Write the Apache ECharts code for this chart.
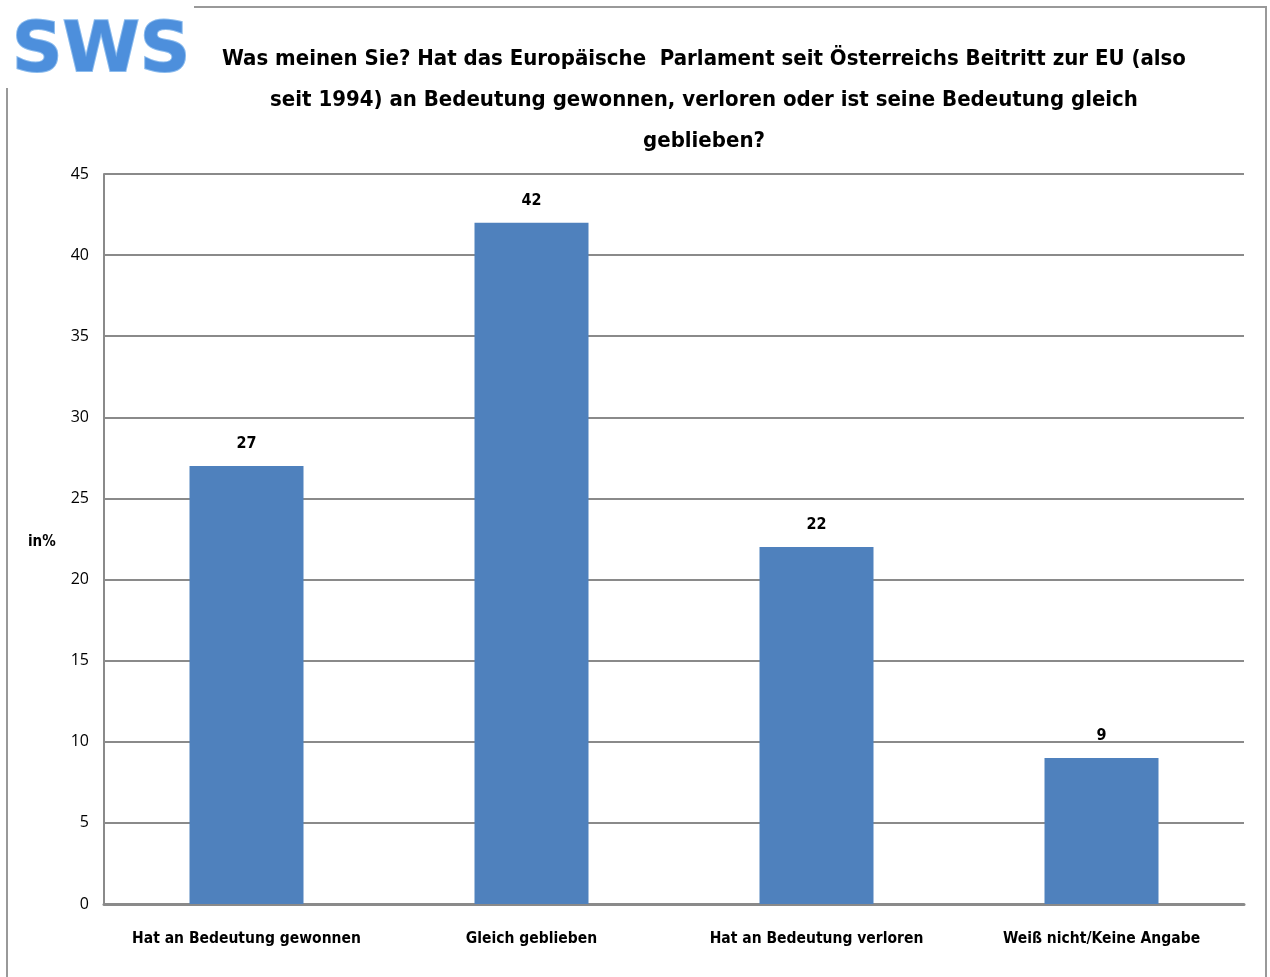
<!DOCTYPE html>
<html>
<head>
<meta charset="utf-8">
<script src="https://cdn.jsdelivr.net/npm/echarts@6/dist/echarts.min.js"></script>
<style>
html,body{margin:0;padding:0;background:#fff;}
#main{width:1270px;height:977px;}
</style>
</head>
<body>
<div id="main"></div>
<script>
const categories = ['Hat an Bedeutung gewonnen', 'Gleich geblieben', 'Hat an Bedeutung verloren', 'Weiß nicht/Keine Angabe'];
const values = [27, 42, 22, 9];
const yTicks = { min: 0, max: 45, interval: 5 };
const titleText = 'Was meinen Sie? Hat das Europäische  Parlament seit Österreichs Beitritt zur EU (also\nseit 1994) an Bedeutung gewonnen, verloren oder ist seine Bedeutung gleich\ngeblieben?';
const yAxisName = 'in%';

const FONT = '"DejaVu Sans Condensed", "Liberation Sans Narrow", "Open Sans", sans-serif';
const chart = echarts.init(document.getElementById('main'), null, { renderer: 'canvas' });
chart.setOption({
  backgroundColor: '#fff',
  animation: false,
  title: {
    text: titleText,
    left: 699,
    top: 34,
    textAlign: 'center',
    textStyle: { fontFamily: FONT, fontSize: 22, fontWeight: 'bold', color: '#000', lineHeight: 41 }
  },
  grid: { left: 104, right: 26, top: 174, bottom: 73 },
  xAxis: {
    type: 'category',
    data: categories,
    axisLine: { lineStyle: { color: '#8a8a8a', width: 3 } },
    axisTick: { show: false },
    axisLabel: { interval: 0, fontFamily: FONT, fontSize: 15.5, fontWeight: 'bold', color: '#000', margin: 27 }
  },
  yAxis: {
    type: 'value',
    min: yTicks.min, max: yTicks.max, interval: yTicks.interval,
    axisLine: { show: true, lineStyle: { color: '#8a8a8a', width: 2 } },
    axisTick: { show: false },
    splitLine: { lineStyle: { color: '#8a8a8a', width: 2 } },
    axisLabel: { fontFamily: '"Open Sans", sans-serif', fontSize: 16, color: '#000', margin: 15 }
  },
  series: [{
    type: 'bar',
    data: values,
    barWidth: '40%',
    itemStyle: { color: '#4f81bd' },
    label: { show: true, position: 'top', distance: 14, fontFamily: FONT, fontSize: 16, fontWeight: 'bold', color: '#000' }
  }],
  graphic: [
    { type: 'line', shape: { x1: 194, y1: 7, x2: 1267, y2: 7 }, style: { stroke: '#999', lineWidth: 2 } },
    { type: 'line', shape: { x1: 1266, y1: 7, x2: 1266, y2: 977 }, style: { stroke: '#999', lineWidth: 2 } },
    { type: 'line', shape: { x1: 7, y1: 88, x2: 7, y2: 977 }, style: { stroke: '#999', lineWidth: 2 } },
    {
      type: 'text', left: 11, top: 17,
      style: {
        text: 'SWS',
        font: 'bold 70px "DejaVu Sans", sans-serif',
        fill: '#4d8fdc',
        stroke: '#8cbcee', lineWidth: 2
      }
    },
    {
      type: 'text', left: 28, top: 535,
      style: { text: yAxisName, font: 'bold 15px ' + FONT, fill: '#000' }
    }
  ]
});
</script>
</body>
</html>
